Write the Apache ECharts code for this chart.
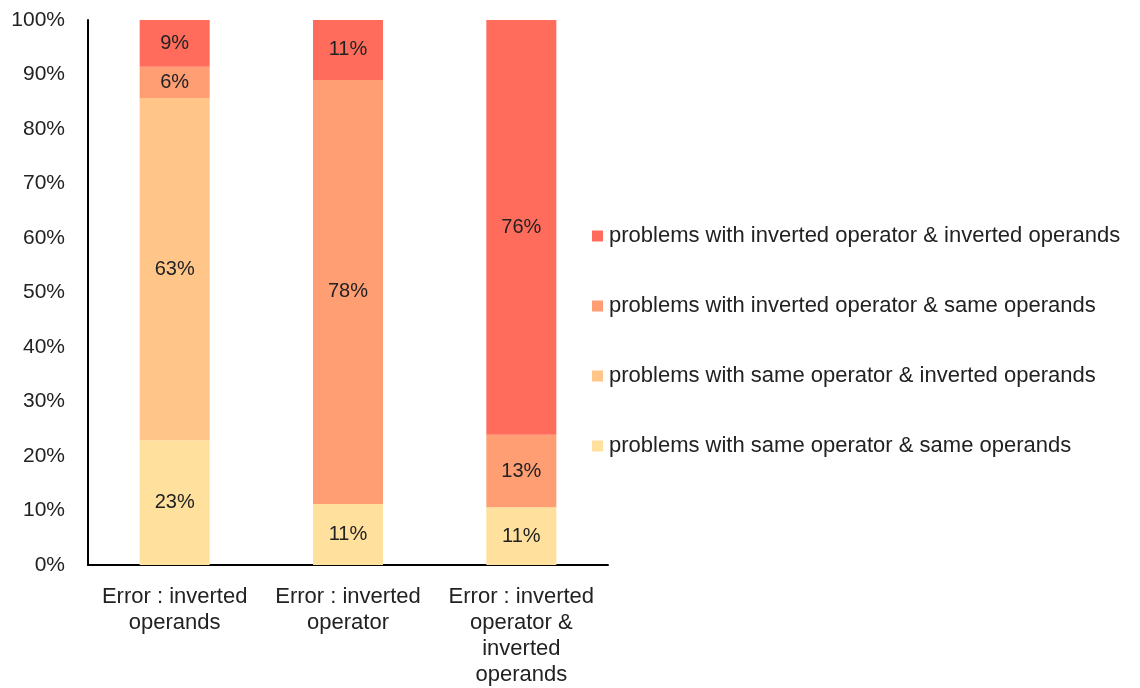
<!DOCTYPE html>
<html><head><meta charset="utf-8">
<script src="https://cdn.jsdelivr.net/npm/echarts@6/dist/echarts.min.js"></script>
<style>html,body{margin:0;padding:0;background:#fff}#c{width:1140px;height:688px}</style>
</head><body><div id="c"></div>
<script>
const categories = ['Error : inverted\noperands', 'Error : inverted\noperator', 'Error : inverted\noperator &\ninverted\noperands'];
const seriesNames = [
  'problems with same operator & same operands',
  'problems with same operator & inverted operands',
  'problems with inverted operator & same operands',
  'problems with inverted operator & inverted operands'
];
const sameSame = [22.9, 11.2, 10.6];
const sameInv = [62.8, 0, 0];
const invSame = [5.7, 77.8, 13.3];
const invInv = [8.6, 11.0, 76.1];
const yTicks = [0, 10, 20, 30, 40, 50, 60, 70, 80, 90, 100];
const colors = ['#FFE09C', '#FFC589', '#FF9D73', '#FF6C5C'];
const values = [sameSame, sameInv, invSame, invInv];
const font = 'Liberation Sans, Arial, sans-serif';

const chart = echarts.init(document.getElementById('c'));
chart.setOption({
  animation: false,
  grid: {left: 88, right: 532, top: 20, bottom: 123, containLabel: false},
  legend: {
    orient: 'vertical', left: 592, top: 225, padding: 0,
    data: seriesNames.slice().reverse(),
    icon: 'rect', itemWidth: 11, itemHeight: 11, itemGap: 48,
    textStyle: {fontFamily: font, fontSize: 22, color: '#222', lineHeight: 22, padding: [0,0,0,1]}
  },
  xAxis: {
    type: 'category', data: categories,
    axisLine: {lineStyle: {color: '#000', width: 2}},
    axisTick: {show: false},
    axisLabel: {fontFamily: font, fontSize: 22, color: '#222', lineHeight: 26, margin: 19, interval: 0}
  },
  yAxis: {
    type: 'value', min: 0, max: 100, interval: 10,
    axisLine: {show: true, lineStyle: {color: '#000', width: 2}},
    axisTick: {show: false},
    splitLine: {show: false},
    axisLabel: {fontFamily: font, fontSize: 21, color: '#222', margin: 23,
      formatter: v => yTicks.includes(v) ? v + '%' : ''}
  },
  series: values.map((arr, i) => ({
    name: seriesNames[i], type: 'bar', stack: 'total', barWidth: 70,
    data: arr,
    itemStyle: {color: colors[i]},
    label: {show: true, position: 'inside', fontFamily: font, fontSize: 20, color: '#222',
      formatter: p => p.value > 0 ? Math.round(p.value) + '%' : ''}
  }))
});
</script></body></html>
